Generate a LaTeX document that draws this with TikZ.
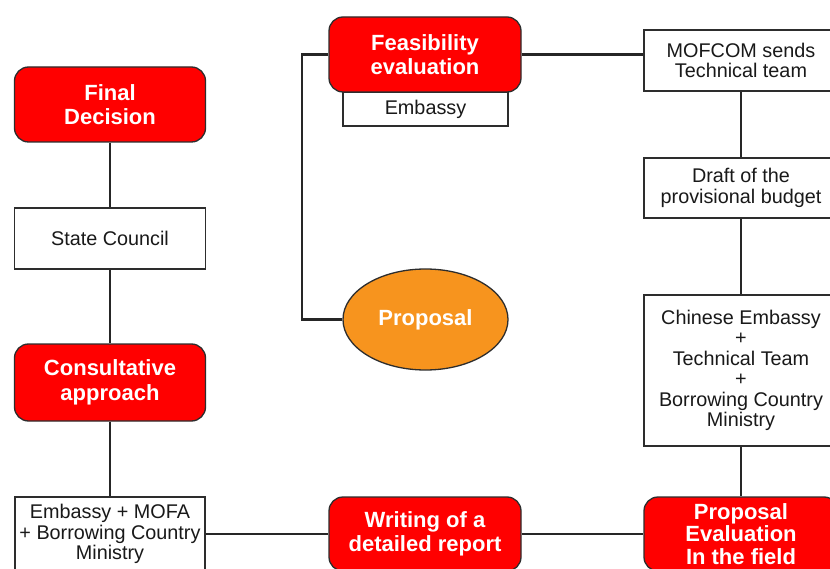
\documentclass[tikz,border=0pt]{standalone}
\usepackage{fontspec}
\setmainfont{Liberation Sans}
\usetikzlibrary{shapes.geometric}

\definecolor{boxred}{RGB}{255,0,0}
\definecolor{proporange}{RGB}{247,148,30}
\definecolor{edgegray}{RGB}{45,45,45}

\begin{document}
\begin{tikzpicture}[x=1pt,y=-1pt,
    redbox/.style={draw=edgegray, line width=1.3pt, fill=boxred, rounded corners=14pt,
        text=white, align=center, inner sep=0pt,
        font=\fontsize{22}{24.5}\selectfont\bfseries},
    whitebox/.style={draw=edgegray, line width=1.3pt, fill=white, align=center, inner sep=0pt,
        text=black!90, font=\fontsize{19.8}{20.5}\selectfont},
    link/.style={draw=black!85, line width=2.2pt}]

    \clip (0,0) rectangle (830,569);
    \fill[white] (0,0) rectangle (830,569);

    % left column
    \node[redbox, minimum width=191pt, minimum height=75pt] (final) at (110,104.5) {Final\\Decision};
    \node[whitebox, minimum width=191pt, minimum height=61pt] (state) at (110,238.5) {State Council};
    \node[redbox, minimum width=191pt, minimum height=77pt] (consult) at (110,382.5) {Consultative\\approach};
    \node[whitebox, minimum width=190pt, minimum height=74pt] (embmofa) at (110,534) {Embassy + MOFA\\+ Borrowing Country\\Ministry};

    % middle column
    \node[whitebox, minimum width=165pt, minimum height=34pt] (embassy) at (425.5,109) {Embassy};
    \node[redbox, minimum width=192pt, minimum height=75pt] (feas) at (425,54.5) {Feasibility\\evaluation};
    \node[ellipse, draw=edgegray, line width=1.3pt, fill=proporange, text=white,
        minimum width=165pt, minimum height=101pt, inner sep=0pt,
        font=\fontsize{22}{24.5}\selectfont\bfseries] (proposal) at (425.5,319.5) {Proposal};
    \node[redbox, minimum width=192pt, minimum height=74pt] (writing) at (425,534) {Writing of a\\detailed report};

    % right column
    \node[whitebox, minimum width=194pt, minimum height=61pt] (mofcom) at (741,60.5) {MOFCOM sends\\Technical team};
    \node[whitebox, minimum width=194pt, minimum height=60pt] (draft) at (741,188) {Draft of the\\provisional budget};
    \node[whitebox, minimum width=194pt, minimum height=151pt] (chinese) at (741,370.5) {Chinese Embassy\\+\\Technical Team\\+\\Borrowing Country\\Ministry};
    \node[redbox, minimum width=194pt, minimum height=74pt,
        font=\fontsize{22}{22.5}\selectfont\bfseries] (propeval) at (741,534) {Proposal\\Evaluation\\In the field};

    \coordinate (bend) at (302,54.5);

    % connectors
    \draw[link] (final.south) -- (state.north);
    \draw[link] (state.south) -- (consult.north);
    \draw[link] (consult.south) -- (embmofa.north);
    \draw[link] (embmofa.east) -- (writing.west);
    \draw[link] (writing.east) -- (propeval.west);
    \draw[link] (propeval.north) -- (chinese.south);
    \draw[link] (chinese.north) -- (draft.south);
    \draw[link] (draft.north) -- (mofcom.south);
    \draw[link] (feas.east) -- (feas.east -| mofcom.west);
    \draw[link] (feas.west) -- (bend) |- (proposal.west);
\end{tikzpicture}
\end{document}
